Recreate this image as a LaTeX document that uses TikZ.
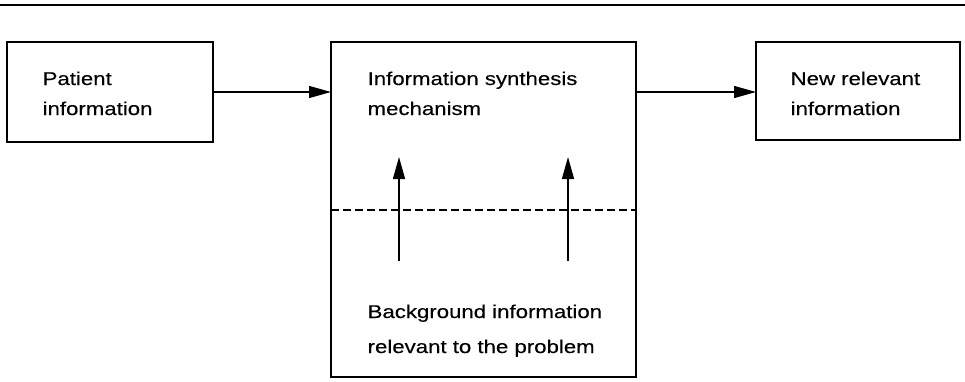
\documentclass[tikz,border=0pt]{standalone}
\usepackage{fontspec}
\setmainfont{Liberation Sans}[FakeStretch=1.2,FakeBold=0.25]
\usetikzlibrary{arrows.meta}
\begin{document}
\begin{tikzpicture}[x=1pt,y=-1pt,
  line width=1.3pt,
  box/.style={draw},
  label/.style={anchor=base west,inner sep=0pt,font=\fontsize{18.5}{30}\selectfont},
  flow/.style={-{Triangle[length=22pt,width=12pt]}},
  ]
  \useasboundingbox (0,0) rectangle (965,381);
  % top rule
  \draw[line width=2.2pt] (0,5) -- (965,5);
  % boxes
  \draw[box] (7,42) rectangle (213,142);
  \draw[box] (331,42) rectangle (636,377);
  \draw[box] (756,42) rectangle (960,140);
  \coordinate (pL) at (213,92);
  \coordinate (mL) at (331,92);
  \coordinate (mR) at (636,92);
  \coordinate (nL) at (756,92);
  % dashed separator in the synthesis box
  \draw[dash pattern=on 8pt off 4pt] (331,210) -- (636,210);
  % texts
  \node[label] (pat1) at (42,85) {Patient};
  \node[label] (pat2) at (42,115) {information};
  \node[label] (syn1) at (367,85) {Information synthesis};
  \node[label] (syn2) at (367,115) {mechanism};
  \node[label] (new1) at (790,85) {New relevant};
  \node[label] (new2) at (790,115) {information};
  \node[label] (bg1) at (367,318) {Background information};
  \node[label] (bg2) at (367,353) {relevant to the problem};
  % connectors
  \draw[flow] (pL) -- (mL);
  \draw[flow] (mR) -- (nL);
  \coordinate (a1s) at (399,261);
  \coordinate (a1e) at (399,157);
  \coordinate (a2s) at (568,261);
  \coordinate (a2e) at (568,157);
  \draw[flow] (a1s) -- (a1e);
  \draw[flow] (a2s) -- (a2e);
\end{tikzpicture}
\end{document}
